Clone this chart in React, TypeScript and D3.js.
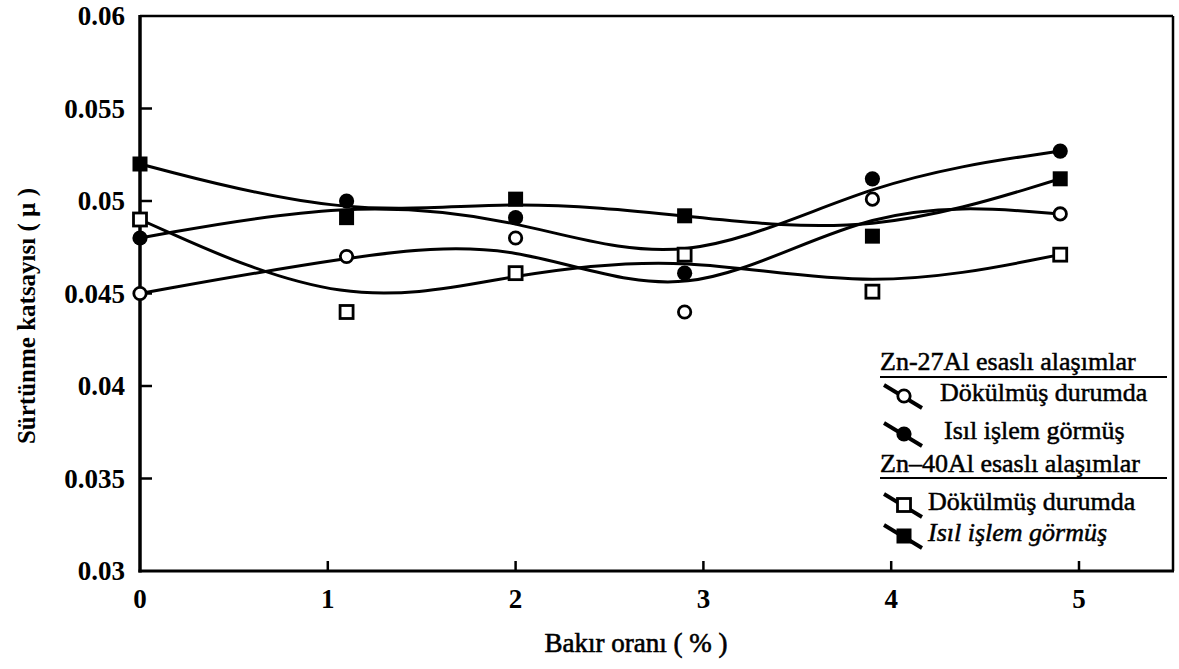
import React from "react";
import * as d3 from "d3";

const xValues = [0, 1.1, 2, 2.9, 3.9, 4.9];
const zn27Cast = [0.045, 0.047, 0.048, 0.044, 0.0501, 0.0493];
const zn27Heat = [0.048, 0.05, 0.0491, 0.0461, 0.0512, 0.0527];
const zn40Cast = [0.049, 0.044, 0.0461, 0.0471, 0.0451, 0.0471];
const zn40Heat = [0.052, 0.0491, 0.0501, 0.0492, 0.0481, 0.0512];

const xTicks = [0, 1, 2, 3, 4, 5];
const yTicks = [0.03, 0.035, 0.04, 0.045, 0.05, 0.055, 0.06];

const xTitle = "Bakır oranı ( % )";
const yTitle = "Sürtünme katsayısı ( µ )";
const legendHeader1 = "Zn-27Al esaslı alaşımlar";
const legendHeader2 = "Zn–40Al esaslı alaşımlar";
const labelCast = "Dökülmüş durumda";
const labelHeat = "Isıl işlem görmüş";

const W = 1179;
const H = 669;
const left = 140;
const right = 1173;
const top = 16;
const bottom = 571;

const FONT = "'Liberation Serif', 'Times New Roman', serif";

type Series = { values: number[]; marker: "openCircle" | "filledCircle" | "openSquare" | "filledSquare" };

const series: Series[] = [
  { values: zn27Cast, marker: "openCircle" },
  { values: zn27Heat, marker: "filledCircle" },
  { values: zn40Cast, marker: "openSquare" },
  { values: zn40Heat, marker: "filledSquare" },
];

function Marker({ kind, x, y }: { kind: Series["marker"]; x: number; y: number }) {
  if (kind === "openCircle")
    return <circle cx={x} cy={y} r={6.2} fill="#fff" stroke="#000" strokeWidth={2.8} />;
  if (kind === "filledCircle") return <circle cx={x} cy={y} r={7.6} fill="#000" />;
  if (kind === "openSquare")
    return <rect x={x - 6.5} y={y - 6.5} width={13} height={13} fill="#fff" stroke="#000" strokeWidth={2.8} />;
  return <rect x={x - 7.5} y={y - 7.5} width={15} height={15} fill="#000" />;
}

export default function App() {
  const xs = d3.scaleLinear().domain([0, 5]).range([left, 1079]);
  const yScale = d3.scaleLinear().domain([0.03, 0.06]).range([bottom, top]);

  const line = d3
    .line<[number, number]>()
    .x((d) => xs(d[0]))
    .y((d) => yScale(d[1]))
    .curve(d3.curveBasis);

  const legendRows = [
    { kind: "openCircle" as const, label: labelCast, y: 401, tx: 940, italic: false },
    { kind: "filledCircle" as const, label: labelHeat, y: 439, tx: 944, italic: false },
    { kind: "openSquare" as const, label: labelCast, y: 510, tx: 928, italic: false },
    { kind: "filledSquare" as const, label: labelHeat, y: 541, tx: 928, italic: true },
  ];

  return (
    <svg
      width={W}
      height={H}
      viewBox={`0 0 ${W} ${H}`}
      style={{ position: "absolute", left: 0, top: 0, background: "#fff" }}
      fontFamily={FONT}
    >
      <rect x={0} y={0} width={W} height={H} fill="#fff" />

      {/* frame */}
      <line x1={left} y1={top} x2={right} y2={top} stroke="#000" strokeWidth={2.5} />
      <line x1={right} y1={top} x2={right} y2={bottom} stroke="#000" strokeWidth={2.5} />
      <line x1={left} y1={top - 1} x2={left} y2={bottom + 1.5} stroke="#000" strokeWidth={3.5} />
      <line x1={left - 1.5} y1={bottom} x2={right + 1} y2={bottom} stroke="#000" strokeWidth={3} />

      {/* y ticks */}
      {yTicks.map((t) => (
        <g key={"y" + t}>
          {t > 0.03 && t < 0.06 && (
            <line x1={left} x2={left + 12} y1={yScale(t)} y2={yScale(t)} stroke="#000" strokeWidth={2.5} />
          )}
          <text
            x={125}
            y={yScale(t) + 9}
            textAnchor="end"
            fontSize={27}
            fontWeight="bold"
            fill="#000"
          >
            {String(t)}
          </text>
        </g>
      ))}

      {/* x ticks */}
      {xTicks.map((t) => (
        <g key={"x" + t}>
          {t > 0 && (
            <line x1={xs(t)} x2={xs(t)} y1={bottom} y2={bottom - 10} stroke="#000" strokeWidth={2.5} />
          )}
          <text x={xs(t)} y={608} textAnchor="middle" fontSize={27} fontWeight="bold" fill="#000">
            {String(t)}
          </text>
        </g>
      ))}

      {/* axis titles */}
      <text
        x={636}
        y={652}
        textAnchor="middle"
        fontSize={27}
        fill="#000"
        stroke="#000"
        strokeWidth={0.6}
      >
        {xTitle}
      </text>
      <text
        transform={`translate(35, 316) rotate(-90)`}
        textAnchor="middle"
        fontSize={25}
        fontWeight="bold"
        fill="#000"
      >
        {yTitle}
      </text>

      {/* curves */}
      {series.map((s, i) => (
        <path
          key={"l" + i}
          d={line(xValues.map((x, j) => [x, s.values[j]] as [number, number])) || ""}
          fill="none"
          stroke="#000"
          strokeWidth={3}
        />
      ))}

      {/* markers */}
      {series.map((s, i) =>
        xValues.map((x, j) => <Marker key={`m${i}-${j}`} kind={s.marker} x={xs(x)} y={yScale(s.values[j])} />)
      )}

      {/* legend */}
      <text x={880} y={370} fontSize={26} fill="#000" stroke="#000" strokeWidth={0.5}>
        {legendHeader1}
      </text>
      <line x1={880} x2={1167} y1={377} y2={377} stroke="#000" strokeWidth={1.8} />
      <text x={880} y={472} fontSize={26} fill="#000" stroke="#000" strokeWidth={0.5}>
        {legendHeader2}
      </text>
      <line x1={880} x2={1167} y1={478} y2={478} stroke="#000" strokeWidth={1.8} />

      {legendRows.map((r, i) => (
        <g key={"lg" + i}>
          <line x1={884} y1={r.y - 16} x2={922} y2={r.y + 7} stroke="#000" strokeWidth={3.8} />
          <Marker kind={r.kind} x={904} y={r.y - 5} />
          <text
            x={r.tx}
            y={r.y}
            fontSize={26}
            fontStyle={r.italic ? "italic" : "normal"}
            fill="#000"
            stroke="#000"
            strokeWidth={0.5}
          >
            {r.label}
          </text>
        </g>
      ))}
    </svg>
  );
}
